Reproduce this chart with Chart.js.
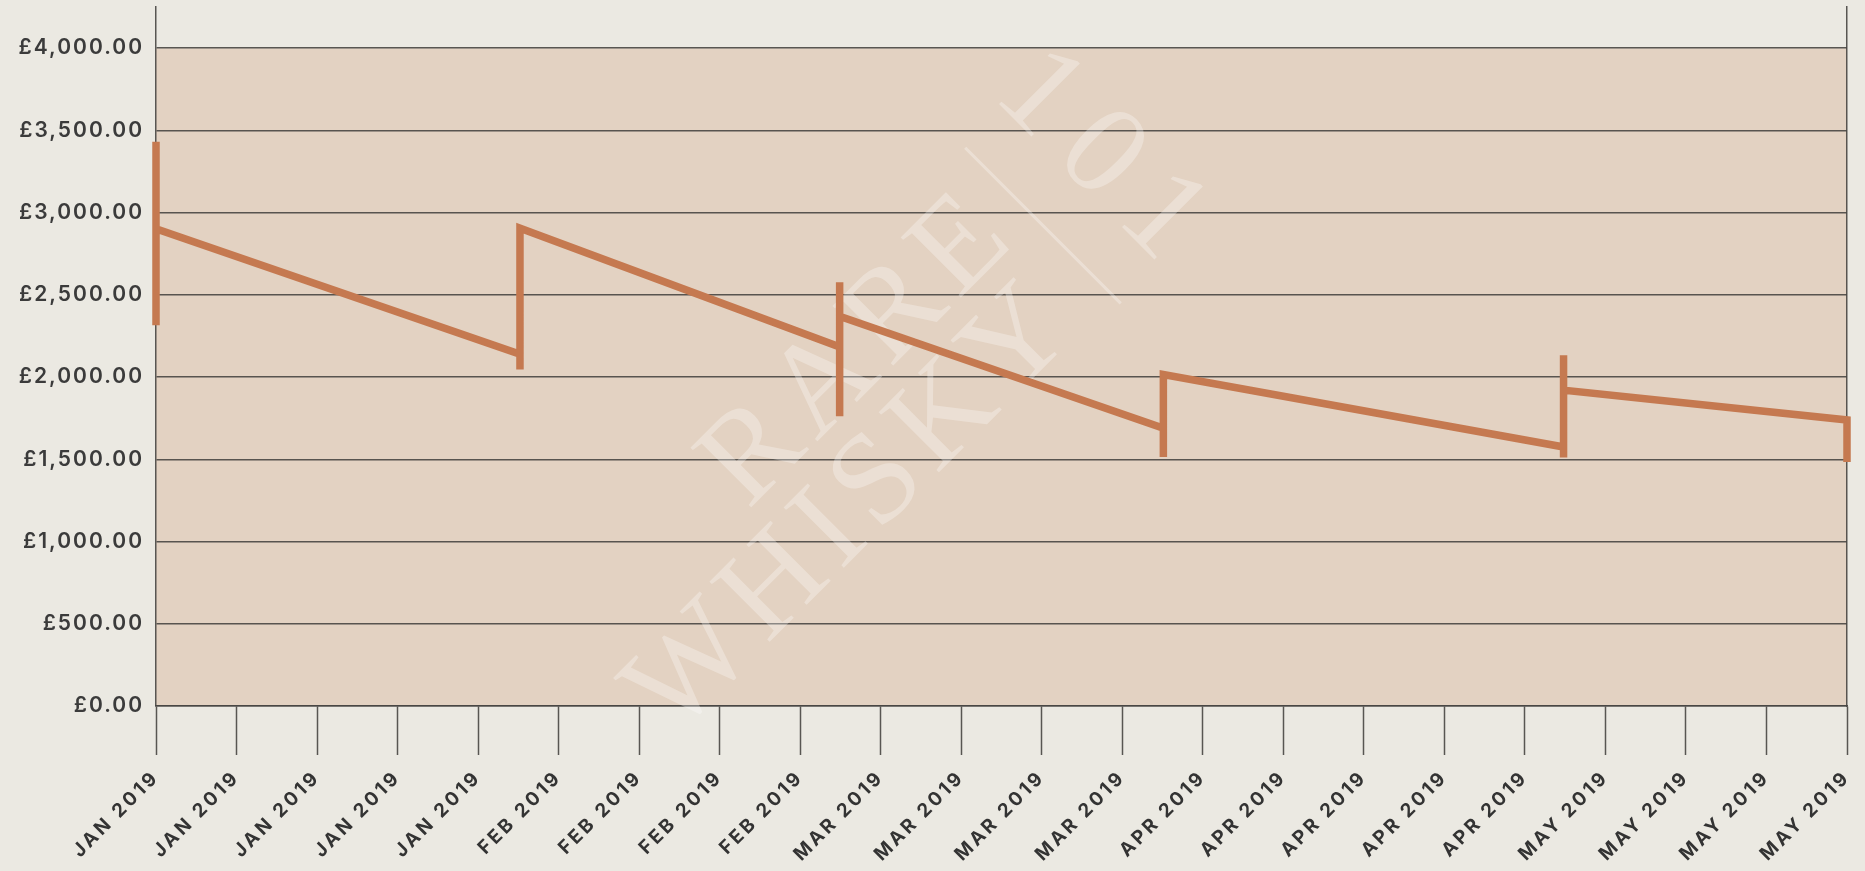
<!DOCTYPE html>
<html>
<head>
<meta charset="utf-8">
<script src="https://cdn.jsdelivr.net/npm/chart.js@4/dist/chart.umd.min.js"></script>
<style>
  html, body { margin: 0; padding: 0; background: #ebe9e2; }
  #wrap { width: 1865px; height: 871px; position: relative; }
</style>
</head>
<body>
<div id="wrap"><canvas id="c"></canvas></div>
<script>
// ---- data ----
const tickLabels = [
  'JAN 2019','JAN 2019','JAN 2019','JAN 2019','JAN 2019',
  'FEB 2019','FEB 2019','FEB 2019','FEB 2019',
  'MAR 2019','MAR 2019','MAR 2019','MAR 2019',
  'APR 2019','APR 2019','APR 2019','APR 2019','APR 2019',
  'MAY 2019','MAY 2019','MAY 2019','MAY 2019'
];
const yTicks = [0, 500, 1000, 1500, 2000, 2500, 3000, 3500, 4000];
const yMax = 4250;
// price path: each auction shows a vertical range, then the line slopes to the next one
const pointX = [0, 0, 0,
                4.52, 4.52, 4.52,
                8.49, 8.49, 8.49, 8.49,
                12.51, 12.51, 12.51,
                17.48, 17.48, 17.48, 17.48,
                21, 21];
const pointY = [3430, 2315, 2901,
                2139, 2046, 2905,
                2183, 1762, 2576, 2370,
                1689, 1514, 2015,
                1575, 1511, 2133, 1920,
                1739, 1484];

const points = pointX.map((x, i) => ({ x: x, y: pointY[i] }));

const GRID = 'rgba(72,70,66,0.9)';
const FONT = 'Inter, "Open Sans", sans-serif';

const fmt = v => '£' + Number(v).toLocaleString('en-GB', { minimumFractionDigits: 2, maximumFractionDigits: 2 });

const zeroPad = s => { s.paddingTop = 0; s.paddingBottom = 0; s.paddingLeft = 0; s.paddingRight = 0; };

const bandPlugin = {
  id: 'band',
  beforeDraw(chart) {
    const { ctx, chartArea } = chart;
    const ys = chart.scales.y;
    const top = ys.getPixelForValue(yTicks[yTicks.length - 1]);
    const bottom = ys.getPixelForValue(0);
    ctx.save();
    ctx.fillStyle = '#e3d2c2';
    ctx.fillRect(chartArea.left, top, chartArea.right - chartArea.left, bottom - top);
    ctx.restore();
    // letter spacing for axis labels
    const spacing = { x: '3px', y: '2px' };
    for (const id of Object.keys(spacing)) {
      const s = chart.scales[id];
      if (s && !s._lsWrapped) {
        const orig = s.drawLabels.bind(s);
        s.drawLabels = function (area) {
          this.ctx.save();
          this.ctx.letterSpacing = spacing[id];
          orig(area);
          this.ctx.restore();
        };
        s._lsWrapped = true;
      }
    }
  }
};

const watermarkPlugin = {
  id: 'watermark',
  beforeDatasetsDraw(chart) {
    const ctx = chart.ctx;
    ctx.save();
    ctx.rotate(-Math.PI / 4);
    ctx.fillStyle = 'rgba(255,255,255,0.30)';
    ctx.strokeStyle = 'rgba(255,255,255,0.30)';
    ctx.font = '130px "Liberation Serif", "DejaVu Serif", serif';
    ctx.textBaseline = 'alphabetic';
    ctx.textAlign = 'left';
    ctx.letterSpacing = '10px';
    ctx.fillText('RARE', 168, 890);
    ctx.fillText('WHISKY', -46, 998);
    ctx.lineWidth = 3;
    ctx.beginPath();
    ctx.moveTo(578, 787);
    ctx.lineTo(578, 1007);
    ctx.stroke();
    ctx.translate(667, 888);
    ctx.rotate(Math.PI / 2);
    ctx.textAlign = 'center';
    ctx.textBaseline = 'middle';
    ctx.letterSpacing = '22px';
    ctx.fillText('101', 11, 0);
    ctx.restore();
  }
};

new Chart(document.getElementById('c'), {
  type: 'line',
  data: {
    datasets: [{
      data: points,
      borderColor: '#c57950',
      borderWidth: 7.5,
      pointRadius: 0,
      pointHoverRadius: 0,
      tension: 0,
      fill: false,
      clip: false,
      borderJoinStyle: 'miter',
      borderCapStyle: 'butt'
    }]
  },
  options: {
    responsive: true,
    maintainAspectRatio: false,
    animation: false,
    events: [],
    layout: { padding: { top: 7, left: 0, right: 0, bottom: 0 } },
    plugins: { legend: { display: false }, tooltip: { enabled: false } },
    scales: {
      x: {
        type: 'linear',
        min: 0,
        max: tickLabels.length - 1,
        afterBuildTicks: s => { s.ticks = tickLabels.map((_, i) => ({ value: i })); },
        afterFit: s => { s.height = 165; zeroPad(s); },
        grid: {
          drawOnChartArea: false,
          drawTicks: true,
          tickLength: 49,
          tickColor: GRID,
          tickWidth: 1.5,
          color: GRID
        },
        border: { display: true, color: GRID, width: 1.5 },
        ticks: {
          autoSkip: false,
          minRotation: 45,
          maxRotation: 45,
          padding: 11,
          color: '#333333',
          font: { family: FONT, size: 19, weight: '700' },
          callback: (v, i) => tickLabels[i]
        }
      },
      y: {
        type: 'linear',
        min: 0,
        max: yMax,
        afterBuildTicks: s => { s.ticks = yTicks.map(v => ({ value: v })); },
        afterFit: s => { s.width = 156; zeroPad(s); },
        grid: { drawTicks: false, color: GRID, lineWidth: 1.5 },
        border: { display: true, color: GRID, width: 1.5 },
        ticks: {
          padding: 12,
          color: '#3b3b3b',
          font: { family: FONT, size: 21, weight: '600' },
          callback: v => fmt(v)
        }
      },
      y2: {
        type: 'linear',
        position: 'right',
        min: 0,
        max: yMax,
        afterFit: s => { s.width = 18; zeroPad(s); },
        grid: { drawOnChartArea: false, drawTicks: false },
        border: { display: true, color: GRID, width: 1.5 },
        ticks: { display: false }
      }
    }
  },
  plugins: [bandPlugin, watermarkPlugin]
});
</script>
</body>
</html>
